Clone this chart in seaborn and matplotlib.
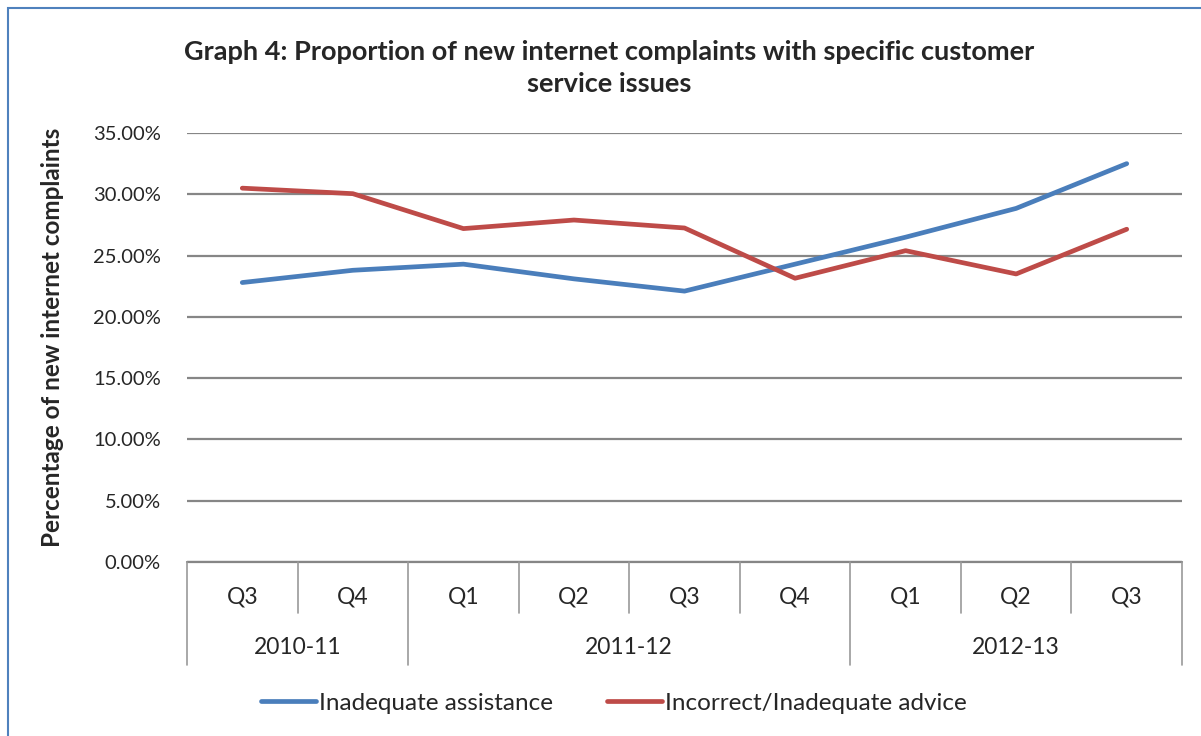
import numpy as np
import pandas as pd
import matplotlib
matplotlib.use("Agg")
import matplotlib.pyplot as plt
import matplotlib.transforms as mtransforms
from matplotlib.patches import Rectangle
from matplotlib.lines import Line2D
import seaborn as sns

# ---- data ----
quarters = ["Q3", "Q4", "Q1", "Q2", "Q3", "Q4", "Q1", "Q2", "Q3"]
years = ["2010-11", "2011-12", "2012-13"]
year_counts = [2, 4, 3]
inadequate_assistance = [22.8, 23.8, 24.3, 23.1, 22.1, 24.3, 26.5, 28.85, 32.5]
incorrect_advice = [30.5, 30.05, 27.2, 27.9, 27.25, 23.15, 25.4, 23.5, 27.15]
series_names = ["Inadequate assistance", "Incorrect/Inadequate advice"]
colors = ["#4A7EBB", "#BE4B48"]

sns.set_theme(style="white")
plt.rcParams["font.family"] = ["Lato", "DejaVu Sans"]

n = len(quarters)
df = pd.DataFrame({
    "idx": list(range(n)) * 2,
    "value": inadequate_assistance + incorrect_advice,
    "series": [series_names[0]] * n + [series_names[1]] * n,
})

W, H = 1201, 736
fig = plt.figure(figsize=(W / 100, H / 100), dpi=100)
ax = fig.add_axes([187 / W, 1 - 562 / H, (1182 - 187) / W, (562 - 133) / H])

sns.lineplot(data=df, x="idx", y="value", hue="series", palette=colors,
             linewidth=3.4, ax=ax, legend=False, solid_capstyle="round")

ax.set_xlim(-0.5, n - 0.5)
ax.set_ylim(0, 35)
ax.set_yticks(np.arange(0, 35.01, 5))
ax.set_yticklabels([f"{v:.2f}%" for v in np.arange(0, 35.01, 5)], fontsize=14.5)
ax.tick_params(axis="y", length=0, pad=19)
ax.set_xticks([])
ax.set_xlabel("")
ax.set_ylabel("")
for s in ax.spines.values():
    s.set_visible(False)
ax.yaxis.grid(True, color="#868686", linewidth=1.6)
ax.set_axisbelow(True)

fig.text(53 / W, 1 - 337 / H, "Percentage of new internet complaints", rotation=90,
         ha="center", va="center", fontsize=17.5, fontweight="bold")

# category axis (multi-level)
trans = mtransforms.blended_transform_factory(ax.transData, ax.transAxes)
ax.plot([-0.5, n - 0.5], [0, 0], transform=trans, color="#868686", lw=1.6, clip_on=False)
q_low = -51 / 429
y_low = -103 / 429
bounds = np.cumsum([0] + year_counts) - 0.5
for b in np.arange(-0.5, n, 1.0):
    bottom = y_low if b in bounds else q_low
    ax.plot([b, b], [0, bottom], transform=trans, color="#9A9A9A", lw=1.2, clip_on=False)
for i, q in enumerate(quarters):
    ax.text(i, -35 / 429, q, transform=trans, ha="center", va="center", fontsize=16.5)
for k, y in enumerate(years):
    ax.text((bounds[k] + bounds[k + 1]) / 2, -86 / 429, y, transform=trans,
            ha="center", va="center", fontsize=16.5)

# title
fig.text(609 / W, 1 - 68 / H,
         "Graph 4: Proportion of new internet complaints with specific customer\nservice issues",
         ha="center", va="center", fontsize=19.5, fontweight="bold", linespacing=1.45)

# legend
handles = [Line2D([], [], color=c, lw=3.4, solid_capstyle="round") for c in colors]
fig.legend(handles, series_names, loc="center", bbox_to_anchor=(614 / W, 1 - 703 / H),
           ncol=2, frameon=False, fontsize=17.5, handlelength=2.25, handletextpad=0.15,
           columnspacing=2.2)

# outer border
fig.patches.append(Rectangle((8 / W, -0.1), 1.2, 1 - 8 / H + 0.1, transform=fig.transFigure,
                             fill=False, edgecolor="#4F81BD", lw=1.5))

fig.savefig("out.png", dpi=100, facecolor="white")
